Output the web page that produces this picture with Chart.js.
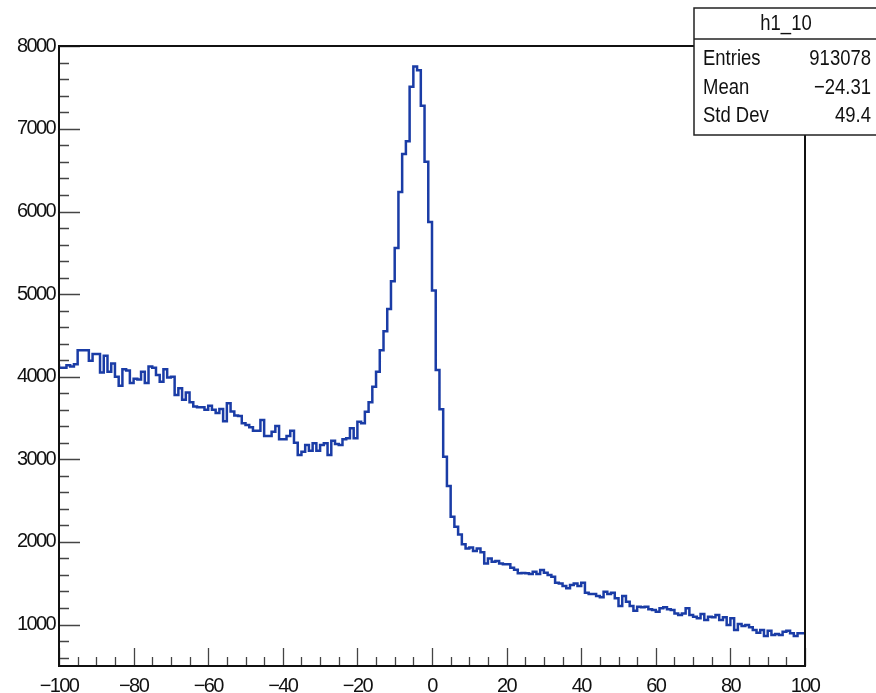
<!DOCTYPE html>
<html lang="en">
<head>
<meta charset="UTF-8">
<title>h1_10</title>
<style>
    body {
        margin: 0;
        background-color: #ffffff;
    }

    .chart-container {
        width: 876px;
        height: 693px;
    }
</style>
</head>
<body>
<div class="chart-container">
    <canvas id="histChart" width="876" height="693"></canvas>
</div>

<script src="https://cdn.jsdelivr.net/npm/chart.js"></script>
<script>
    // histogram h1_10: 200 bins of width 1 from -100 to 100
    const binLow = -100;
    const binWidth = 1;
    const counts = [
        4150, 4110, 4110, 4140, 4125, 4150, 4320, 4320, 4320, 4195,
        4275, 4275, 4050, 4255, 4060, 4160, 4000, 3890, 4090, 4075,
        3925, 3975, 3965, 4060, 3925, 4125, 4110, 4020, 3940, 4090,
        3990, 4000, 3780, 3860, 3720, 3810, 3690, 3640, 3630, 3630,
        3600, 3650, 3600, 3560, 3610, 3460, 3680, 3580, 3530, 3525,
        3436, 3416, 3388, 3347, 3347, 3476, 3283, 3283, 3335, 3404,
        3242, 3242, 3283, 3347, 3202, 3053, 3093, 3174, 3105, 3194,
        3105, 3174, 3194, 3053, 3226, 3186, 3174, 3242, 3254, 3375,
        3254, 3456, 3436, 3577, 3690, 3880, 4060, 4320, 4550, 4820,
        5155, 5560, 6237, 6695, 6850, 7511, 7755, 7710, 7280, 6603,
        5872, 5045, 4080, 3605, 3030, 2678, 2305, 2185, 2090, 1972,
        1920, 1934, 1890, 1922, 1874, 1740, 1800, 1760, 1770, 1740,
        1730, 1730, 1686, 1664, 1620, 1625, 1620, 1611, 1640, 1611,
        1660, 1627, 1599, 1579, 1506, 1498, 1466, 1438, 1478, 1498,
        1466, 1506, 1385, 1369, 1369, 1345, 1329, 1397, 1369, 1385,
        1317, 1224, 1345, 1276, 1224, 1168, 1216, 1208, 1216, 1184,
        1176, 1155, 1196, 1208, 1184, 1176, 1135, 1115, 1135, 1196,
        1115, 1095, 1075, 1127, 1055, 1095, 1087, 1115, 1055, 1087,
        994, 1075, 933, 1006, 982, 994, 966, 933, 901, 933,
        861, 925, 873, 885, 873, 913, 925, 893, 861, 893
    ];

    const xTickValues = [-100, -80, -60, -40, -20, 0, 20, 40, 60, 80, 100];
    const yTickValues = [1000, 2000, 3000, 4000, 5000, 6000, 7000, 8000];

    const statsTitle = 'h1_10';
    const statsLabels = ['Entries', 'Mean', 'Std Dev'];
    const statsValues = ['913078', '\u221224.31', '49.4'];

    const fontFamily = "'Liberation Sans', Arial, sans-serif";
    const lineColor = '#1a3ca6';

    // ROOT-style minus sign
    function fmt(v) {
        return v < 0 ? '\u2212' + Math.abs(v) : String(v);
    }

    // points at bin low edges, last one closes the final bin
    const points = counts.map((c, i) => ({ x: binLow + i * binWidth, y: c }));
    points.push({ x: binLow + counts.length * binWidth, y: counts[counts.length - 1] });

    // frame, inward ticks and the stats box
    const rootFrame = {
        id: 'rootFrame',
        beforeDraw(chart) {
            // tighter text, closer to the narrow helvetica of the original canvas
            chart.ctx.letterSpacing = '-1.6px';
        },
        afterDatasetsDraw(chart) {
            const { ctx, chartArea: a, scales: { x, y } } = chart;
            ctx.save();

            ctx.strokeStyle = '#444';
            ctx.lineWidth = 1.3;
            ctx.beginPath();
            for (let v = -100; v <= 100; v += 5) {
                const px = Math.round(x.getPixelForValue(v)) + 0.5;
                const len = v % 20 === 0 ? 18 : 9;
                ctx.moveTo(px, a.bottom);
                ctx.lineTo(px, a.bottom - len);
            }
            for (let v = 600; v <= 8000; v += 200) {
                const py = Math.round(y.getPixelForValue(v)) + 0.5;
                const len = v % 1000 === 0 ? 21 : 10;
                ctx.moveTo(a.left, py);
                ctx.lineTo(a.left + len, py);
            }
            ctx.stroke();

            ctx.strokeStyle = '#111';
            ctx.lineWidth = 2;
            ctx.strokeRect(a.left, a.top, a.right - a.left, a.bottom - a.top);
            ctx.restore();
        },
        afterDraw(chart) {
            const ctx = chart.ctx;
            const box = { left: 694, top: 8, right: 880, bottom: 135, split: 39 };
            ctx.save();
            ctx.fillStyle = '#fff';
            ctx.fillRect(box.left, box.top, box.right - box.left, box.bottom - box.top);
            ctx.strokeStyle = '#222';
            ctx.lineWidth = 1.5;
            ctx.strokeRect(box.left, box.top, box.right - box.left, box.bottom - box.top);
            ctx.beginPath();
            ctx.moveTo(box.left, box.split);
            ctx.lineTo(box.right, box.split);
            ctx.stroke();

            // condensed text in the stats box
            const sx = 0.84;
            ctx.letterSpacing = '0px';
            ctx.fillStyle = '#111';
            ctx.font = '22px ' + fontFamily;
            ctx.textBaseline = 'middle';
            ctx.scale(sx, 1);
            ctx.textAlign = 'center';
            ctx.fillText(statsTitle, 786 / sx, 24);
            statsLabels.forEach((label, i) => {
                const rowY = 59 + i * 28.5;
                ctx.textAlign = 'left';
                ctx.fillText(label, 703 / sx, rowY);
                ctx.textAlign = 'right';
                ctx.fillText(statsValues[i], 871 / sx, rowY);
            });
            ctx.restore();
            ctx.letterSpacing = '0px';
        }
    };

    const histChart = new Chart(document.getElementById('histChart'), {
        type: 'line',
        data: {
            datasets: [{
                label: statsTitle,
                data: points,
                stepped: 'after',
                borderColor: lineColor,
                borderWidth: 2.5,
                pointRadius: 0,
                fill: false
            }]
        },
        options: {
            responsive: false,
            animation: false,
            devicePixelRatio: 1,
            layout: {
                padding: { top: 46, right: 71, left: 0, bottom: 0 }
            },
            plugins: {
                legend: { display: false },
                tooltip: { enabled: false }
            },
            scales: {
                x: {
                    type: 'linear',
                    min: -100,
                    max: 100,
                    grid: { display: false, drawTicks: false },
                    border: { display: false },
                    afterBuildTicks: (s) => { s.ticks = xTickValues.map(v => ({ value: v })); },
                    afterFit: (s) => { s.height = 27; },
                    ticks: {
                        padding: 8,
                        maxRotation: 0,
                        autoSkip: false,
                        color: '#111',
                        font: { family: fontFamily, size: 20 },
                        callback: (v) => fmt(v)
                    }
                },
                y: {
                    type: 'linear',
                    min: 498,
                    max: 8004,
                    grid: { display: false, drawTicks: false },
                    border: { display: false },
                    afterBuildTicks: (s) => { s.ticks = yTickValues.map(v => ({ value: v })); },
                    afterFit: (s) => { s.width = 59; },
                    ticks: {
                        padding: 4,
                        autoSkip: false,
                        color: '#111',
                        font: { family: fontFamily, size: 20 },
                        callback: (v) => fmt(v)
                    }
                }
            }
        },
        plugins: [rootFrame]
    });
</script>
</body>
</html>
